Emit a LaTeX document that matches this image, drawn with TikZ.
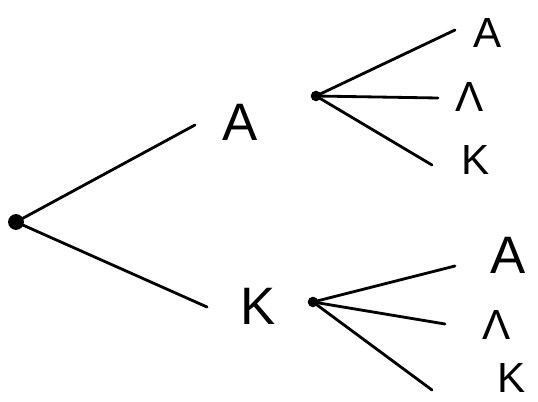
\documentclass[tikz,border=0pt]{standalone}
\usepackage{fontspec}
\setmainfont{Liberation Sans}
\usetikzlibrary{positioning}

\begin{document}
\begin{tikzpicture}[
    x=0.02cm, y=-0.02cm,
    dot/.style={circle, fill=black, inner sep=0pt, minimum size=#1},
    branch/.style={line width=1.6pt, line cap=round},
    big/.style={font=\fontsize{30}{30}\selectfont, inner sep=0pt},
    small/.style={font=\fontsize{24}{24}\selectfont, inner sep=0pt}
]
    \useasboundingbox (0,0) rectangle (538,402);

    % Root and first level
    \node[dot=9pt] (root) at (16,222) {};
    \coordinate (eA) at (195,125);
    \coordinate (eK) at (207,307);
    \node[big] (A) at (240,122) {A};
    \node[big] (K) at (258,306) {K};
    \draw[branch] (root.center) -- (eA);
    \draw[branch] (root.center) -- (eK);

    % Second level after A
    \node[dot=6pt] (dA) at (316,96) {};
    \coordinate (eAA) at (455,30);
    \coordinate (eAL) at (438,98);
    \coordinate (eAK) at (432,165);
    \node[small] (AA) at (488,33) {A};
    \node[small] (AL) at (470,97) {Λ};
    \node[small] (AK) at (476,160) {K};
    \draw[branch] (dA.center) -- (eAA);
    \draw[branch] (dA.center) -- (eAL);
    \draw[branch] (dA.center) -- (eAK);

    % Second level after K
    \node[dot=6pt] (dK) at (313,302) {};
    \coordinate (eKA) at (455,266);
    \coordinate (eKL) at (445,324);
    \coordinate (eKK) at (432,390);
    \node[big] (KA) at (508,255) {A};
    \node[small] (KL) at (497,325) {Λ};
    \node[small] (KK) at (512,378) {K};
    \draw[branch] (dK.center) -- (eKA);
    \draw[branch] (dK.center) -- (eKL);
    \draw[branch] (dK.center) -- (eKK);
\end{tikzpicture}
\end{document}
